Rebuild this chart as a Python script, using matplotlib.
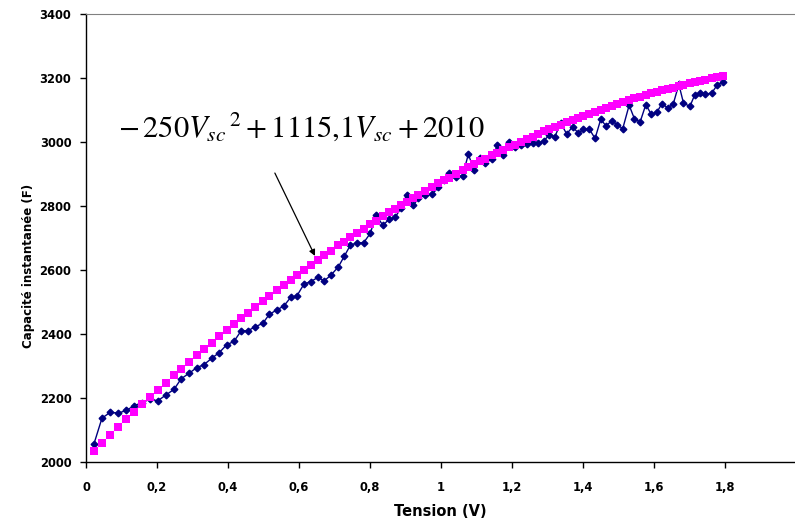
import matplotlib
matplotlib.use("Agg")
import matplotlib.pyplot as plt

tension = [0.0225, 0.045, 0.068, 0.091, 0.114, 0.135, 0.158, 0.180, 0.202, 0.2245,
           0.248, 0.268, 0.290, 0.312, 0.332, 0.354, 0.3755, 0.396, 0.417, 0.437,
           0.456, 0.477, 0.498, 0.516, 0.537, 0.557, 0.577, 0.594, 0.614, 0.634,
           0.653, 0.671, 0.690, 0.711, 0.728, 0.745, 0.764, 0.782, 0.801, 0.817,
           0.836, 0.854, 0.871, 0.887, 0.903, 0.922, 0.936, 0.955, 0.975, 0.9925,
           1.0085, 1.0235, 1.042, 1.061, 1.077, 1.093, 1.110, 1.125, 1.143, 1.159,
           1.1755, 1.192, 1.208, 1.224, 1.241, 1.258, 1.274, 1.290, 1.305, 1.321,
           1.337, 1.354, 1.371, 1.387, 1.401, 1.418, 1.434, 1.450, 1.465, 1.481,
           1.497, 1.512, 1.530, 1.545, 1.561, 1.577, 1.592, 1.608, 1.622, 1.639,
           1.654, 1.670, 1.683, 1.701, 1.715, 1.730, 1.745, 1.762, 1.778, 1.795]

capa_mesure = [2057, 2137, 2155, 2153, 2161, 2176, 2185, 2197, 2191, 2209,
               2227, 2260, 2277, 2295, 2304, 2324, 2342, 2366, 2377, 2410,
               2410, 2423, 2433, 2461, 2475, 2487, 2515, 2519, 2556, 2564,
               2577, 2566, 2584, 2610, 2644, 2678, 2685, 2685, 2715, 2772,
               2740, 2758, 2765, 2793, 2834, 2802, 2824, 2834, 2837, 2858,
               2881, 2902, 2892, 2894, 2962, 2912, 2949, 2935, 2946, 2991,
               2959, 3001, 2983, 2991, 2993, 2996, 2996, 3004, 3022, 3017,
               3060, 3025, 3048, 3027, 3040, 3040, 3011, 3071, 3050, 3067,
               3053, 3042, 3115, 3072, 3063, 3117, 3087, 3093, 3119, 3107,
               3118, 3180, 3122, 3111, 3148, 3153, 3150, 3152, 3178, 3189]

# fitted curve values at the same voltages (magenta squares)
capa_fit = [2035, 2060, 2085, 2109, 2134, 2156, 2180, 2203, 2225, 2248,
            2271, 2291, 2312, 2334, 2353, 2373, 2394, 2412, 2432, 2450,
            2467, 2485, 2503, 2519, 2537, 2554, 2570, 2584, 2600, 2617,
            2632, 2646, 2660, 2677, 2689, 2702, 2716, 2729, 2743, 2754,
            2768, 2780, 2792, 2802, 2813, 2826, 2835, 2847, 2860, 2871,
            2880, 2889, 2901, 2912, 2921, 2930, 2940, 2948, 2958, 2967,
            2975, 2984, 2992, 3000, 3009, 3017, 3025, 3033, 3040, 3047,
            3054, 3062, 3069, 3076, 3082, 3089, 3095, 3101, 3107, 3113,
            3119, 3125, 3131, 3136, 3142, 3147, 3152, 3157, 3161, 3166,
            3170, 3175, 3179, 3183, 3187, 3191, 3195, 3199, 3202, 3206]

x_ticks = [0, 0.2, 0.4, 0.6, 0.8, 1.0, 1.2, 1.4, 1.6, 1.8, 2.0]
x_labels = ["0", "0,2", "0,4", "0,6", "0,8", "1", "1,2", "1,4", "1,6", "1,8", ""]
y_ticks = [2000, 2200, 2400, 2600, 2800, 3000, 3200, 3400]

W, H = 795, 522
plt.rcParams["font.family"] = "DejaVu Sans"
plt.rcParams["mathtext.fontset"] = "stix"

fig = plt.figure(figsize=(W / 100, H / 100), dpi=100, facecolor="white")
ax = fig.add_axes([86 / W, 1 - 462 / H, 710 / W, 448 / H])

ax.plot(tension, capa_mesure, color="#000080", lw=1.0, marker="D", ms=3.4,
        mec="#000080", mfc="#000080", zorder=3)
ax.plot(tension, capa_fit, ls="none", marker="s", ms=5.8, mfc="#ff00ff",
        mec="#ff00ff", mew=0, zorder=4)

ax.set_xlim(0, 2)
ax.set_ylim(2000, 3400)
ax.set_xticks(x_ticks)
ax.set_xticklabels(x_labels)
ax.set_yticks(y_ticks)
ax.tick_params(axis="x", direction="out", length=4, width=1, pad=9.5,
               labelsize=8.3)
ax.tick_params(axis="y", direction="out", length=4, width=1, pad=6.5,
               labelsize=8.3)
for lab in ax.get_xticklabels() + ax.get_yticklabels():
    lab.set_fontweight("bold")

ax.spines["right"].set_visible(False)
ax.spines["top"].set_color("#808080")
ax.spines["top"].set_linewidth(0.8)
ax.spines["left"].set_linewidth(1.0)
ax.spines["bottom"].set_linewidth(1.0)

# equation + arrow
ax.text(0.090, 3016, r"$-\,250V_{sc}{}^{\,2}+1115{,}1V_{sc}+2010$", fontsize=22,
        ha="left", va="baseline", color="black")
ax.annotate("", xy=(0.645, 2644), xytext=(0.532, 2903),
            arrowprops=dict(arrowstyle="-|>", color="black", lw=0.9,
                            mutation_scale=9, shrinkA=0, shrinkB=0))

fig.text(440 / W, 1 - 511 / H, "Tension (V)", ha="center", va="center",
         fontsize=10.5, fontweight="bold")
fig.text(29 / W, 1 - 266 / H, "Capacité instantanée (F)", ha="center",
         va="center", rotation=90, fontsize=8.5, fontweight="bold")

fig.savefig("out.png", dpi=100, facecolor="white")
